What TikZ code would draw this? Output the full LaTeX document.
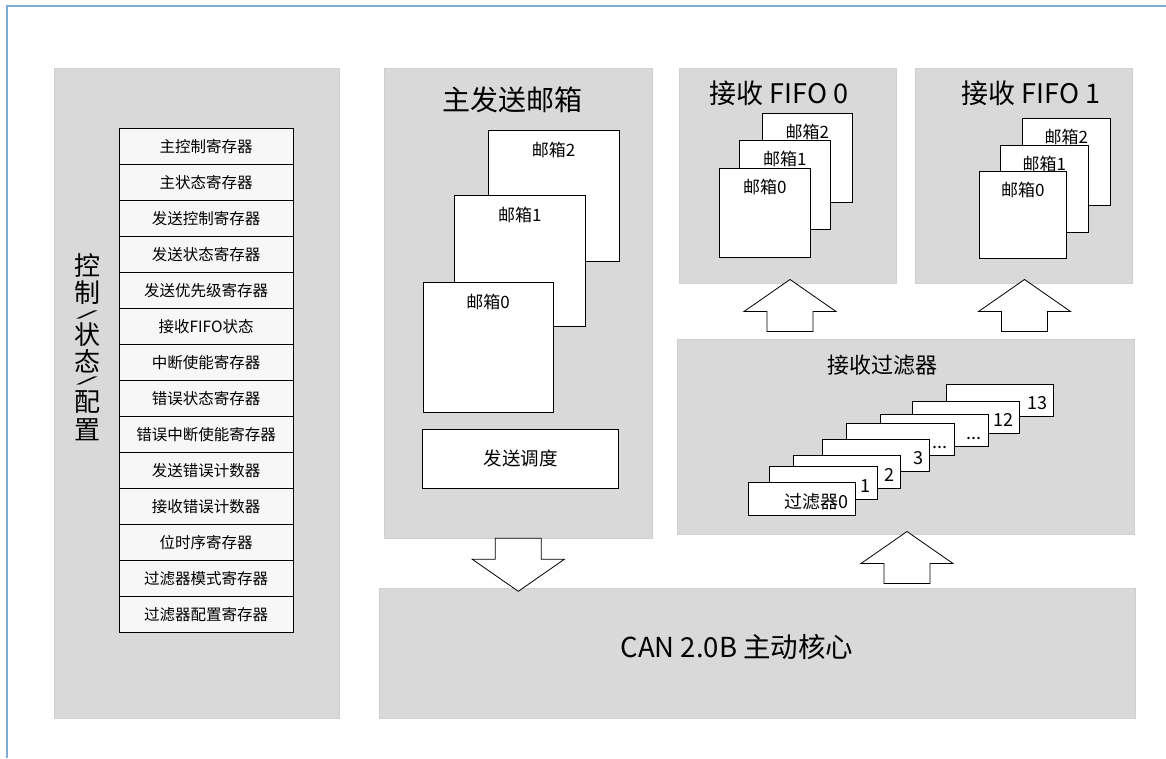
\documentclass[tikz,border=0pt]{standalone}
\usepackage{fontspec}
\setmainfont{Noto Sans CJK SC}
\usetikzlibrary{positioning}

\definecolor{panelgray}{HTML}{D9D9D9}
\definecolor{paneledge}{HTML}{CFCFCF}
\definecolor{regfill}{HTML}{F7F7F7}
\definecolor{frameblue}{HTML}{7FAAD6}

\newcommand*{\fsz}[1]{\fontsize{#1}{#1}\selectfont}
\newcommand*{\vslash}{\scalebox{2.3}[0.32]{/}}
\newcommand*{\etcdots}{...}

% block arrow pointing up, tip at (#1,#2)
\newcommand*{\fatup}[2]{%
	\draw[fatarrow] (#1,#2) -- ++(46,32) -- ++(-23,0) -- ++(0,20) -- ++(-46,0) -- ++(0,-20) -- ++(-23,0) -- cycle;}
% block arrow pointing down, shaft top centre at (#1,#2)
\newcommand*{\fatdown}[2]{%
	\draw[fatarrow] (#1,#2) ++(-23,0) -- ++(46,0) -- ++(0,21) -- ++(23,0) -- ++(-46,32) -- ++(-46,-32) -- ++(23,0) -- cycle;}

\begin{document}
\begin{tikzpicture}
[
	x=1pt, y=-1pt,
	panel/.style={draw=paneledge,fill=panelgray,line width=0.6pt,inner sep=0pt,outer sep=0pt,anchor=north west},
	reg/.style={draw,fill=regfill,line width=0.8pt,minimum width=174,minimum height=36,inner sep=0pt,outer sep=0pt,font=\fsz{15.5}},
	mbox/.style={draw,fill=white,line width=0.9pt,inner sep=0pt,outer sep=0pt,anchor=north west},
	mblabel/.style={inner sep=0pt,font=\fsz{17}},
	cardlabel/.style={inner sep=0pt,anchor=base east,font=\fsz{18}},
	title/.style={inner sep=0pt,font=\fsz{27}},
	fatarrow/.style={draw,fill=white,line width=0.8pt,line join=miter}
]
	\useasboundingbox (0,0) rectangle (1166,758);

	% outer frame
	\draw[frameblue,line width=2pt] (7,758) -- (7,5.5) -- (1166,5.5);

	% panels
	\node[panel,minimum width=285,minimum height=650] (ctrl) at (54,68) {};
	\node[panel,minimum width=268,minimum height=470] (txpanel) at (384,68) {};
	\node[panel,minimum width=217,minimum height=215] (fifo0) at (679,68) {};
	\node[panel,minimum width=217,minimum height=215] (fifo1) at (915,68) {};
	\node[panel,minimum width=457,minimum height=195] (filt) at (677,339) {};
	\node[panel,minimum width=756,minimum height=130] (core) at (379,588) {};

	% control / status / config
	\foreach \ch [count=\k] /\yy in {控/265,制/292.5,\vslash/314.5,状/335,态/361,\vslash/381,配/402,置/430}
		\node[inner sep=0pt,font=\fsz{26}] (side\k) at (87,\yy) {\ch};

	\foreach \txt [count=\i] in {主控制寄存器,主状态寄存器,发送控制寄存器,发送状态寄存器,发送优先级寄存器,接收FIFO状态,中断使能寄存器,错误状态寄存器,错误中断使能寄存器,发送错误计数器,接收错误计数器,位时序寄存器,过滤器模式寄存器,过滤器配置寄存器}
		\node[reg] (reg\i) at (206,{110.7+36*\i}) {\txt};

	% transmit mailboxes
	\node[title,font=\fsz{28}] (txtitle) at (512,100) {主发送邮箱};
	\node[mbox,minimum width=131,minimum height=131] (txmb2) at (488,130) {};
	\node[mblabel] (txlbl2) at ([yshift=-20pt]txmb2.north) {邮箱2};
	\node[mbox,minimum width=130.5,minimum height=130.5] (txmb1) at (454.5,195.5) {};
	\node[mblabel] (txlbl1) at ([yshift=-20pt]txmb1.north) {邮箱1};
	\node[mbox,minimum width=130,minimum height=130] (txmb0) at (423,282) {};
	\node[mblabel] (txlbl0) at ([yshift=-20pt]txmb0.north) {邮箱0};
	\node[mbox,minimum width=196,minimum height=59] (sched) at (422.5,429) {};
	\node[inner sep=0pt,font=\fsz{18.5}] (schedlbl) at (sched.center) {发送调度};

	% receive FIFO 0
	\node[title] (f0title) at (779,93) {接收 FIFO 0};
	\node[mbox,minimum width=90.5,minimum height=89] (f0mb2) at (762,113.5) {};
	\node[mblabel] (f0lbl2) at ([yshift=-19pt]f0mb2.north) {邮箱2};
	\node[mbox,minimum width=90.5,minimum height=89] (f0mb1) at (739.5,140) {};
	\node[mblabel] (f0lbl1) at ([yshift=-19pt]f0mb1.north) {邮箱1};
	\node[mbox,minimum width=90.5,minimum height=89] (f0mb0) at (719.5,168.5) {};
	\node[mblabel] (f0lbl0) at ([yshift=-19pt]f0mb0.north) {邮箱0};

	% receive FIFO 1
	\node[title] (f1title) at (1031,93) {接收 FIFO 1};
	\node[mbox,minimum width=87.5,minimum height=87] (f1mb2) at (1022.5,118) {};
	\node[mblabel] (f1lbl2) at ([yshift=-19pt]f1mb2.north) {邮箱2};
	\node[mbox,minimum width=87.5,minimum height=87] (f1mb1) at (1000.5,145) {};
	\node[mblabel] (f1lbl1) at ([yshift=-19pt]f1mb1.north) {邮箱1};
	\node[mbox,minimum width=87.5,minimum height=87] (f1mb0) at (979,171.5) {};
	\node[mblabel] (f1lbl0) at ([yshift=-19pt]f1mb0.north) {邮箱0};

	% acceptance filters, back to front
	\node[title,font=\fsz{22}] (filttitle) at (882,365) {接收过滤器};
	\foreach \xx/\yy/\txt [count=\c] in {946.3/384.3/13,912.3/401.3/12,880.7/414/\etcdots,846.7/423.3/\etcdots,822.3/439.3/3,793.3/455.7/2,769.7/466.7/1,748/482.7/过滤器0}
	{
		\node[mbox,minimum width=107.5,minimum height=32.5] (card\c) at (\xx,\yy) {};
		\node[cardlabel] (cardlbl\c) at ([xshift=-6.5pt,yshift=7pt]card\c.south east) {\txt};
	}

	% CAN core
	\node[title,font=\fsz{27.5}] (coretext) at (737,647) {CAN 2.0B 主动核心};

	% block arrows
	\fatup{790}{279.5}
	\fatup{1024.5}{279.5}
	\fatup{907}{531.5}
	\fatdown{518.3}{538.3}

\end{tikzpicture}
\end{document}
